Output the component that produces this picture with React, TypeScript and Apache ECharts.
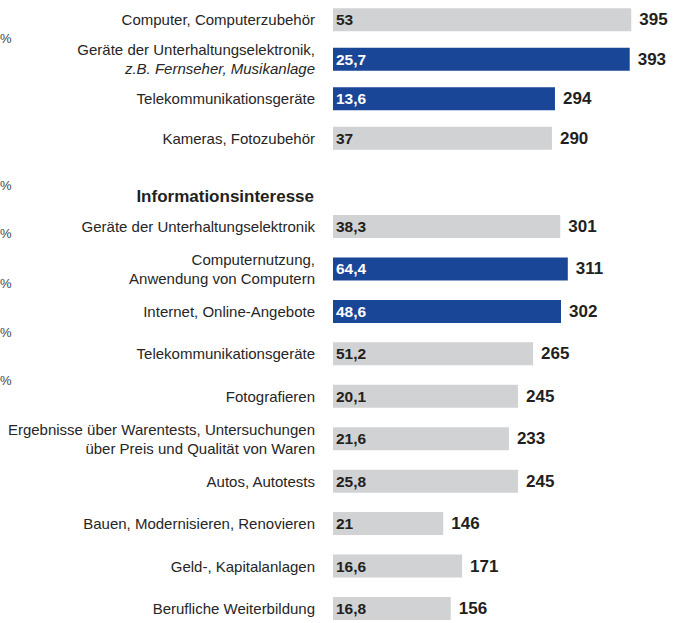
import React, { useEffect, useRef } from "react";
import * as echarts from "echarts";

const group1Categories = [
  "Computer, Computerzubehör",
  "Geräte der Unterhaltungselektronik,",
  "Telekommunikationsgeräte",
  "Kameras, Fotozubehör",
];
const group1Subtitles = ["", "z.B. Fernseher, Musikanlage", "", ""];
const group1Index = [395, 393, 294, 290];
const group1Share = ["53", "25,7", "13,6", "37"];
const group1Highlight = [false, true, true, false];

const group2Title = "Informationsinteresse";
const group2Categories = [
  "Geräte der Unterhaltungselektronik",
  "Computernutzung,\nAnwendung von Computern",
  "Internet, Online-Angebote",
  "Telekommunikationsgeräte",
  "Fotografieren",
  "Ergebnisse über Warentests, Untersuchungen\nüber Preis und Qualität von Waren",
  "Autos, Autotests",
  "Bauen, Modernisieren, Renovieren",
  "Geld-, Kapitalanlagen",
  "Berufliche Weiterbildung",
];
const group2Index = [301, 311, 302, 265, 245, 233, 245, 146, 171, 156];
const group2Share = ["38,3", "64,4", "48,6", "51,2", "20,1", "21,6", "25,8", "21", "16,6", "16,8"];
const group2Highlight = [false, true, true, false, false, false, false, false, false, false];

const leftPercentRows = ["%", "%", "%", "%", "%", "%"];

const GRAY = "#d1d2d4";
const BLUE = "#1a4698";
const DARK = "#231f20";
const LABEL = "#262626";
const SANS = "'Liberation Sans', Arial, sans-serif";

export default function App() {
  const ref = useRef<HTMLDivElement>(null);
  useEffect(() => {
    if (!ref.current) return;
    const chart = echarts.init(ref.current, null, { renderer: "svg" });

    const makeCatAxis = (gridIndex: number, cats: string[], subs?: string[]) => ({
      type: "category",
      gridIndex,
      data: cats,
      inverse: true,
      axisLine: { show: false },
      axisTick: { show: false },
      axisLabel: {
        margin: 18,
        fontFamily: SANS,
        fontSize: 15,
        color: LABEL,
        lineHeight: 19,
        align: "right",
        formatter: (v: string, i: number) => {
          const sub = subs ? subs[i] : "";
          if (sub) return `{n|${v}}\n{it|${sub}}`;
          return v;
        },
        rich: {
          n: { fontFamily: SANS, fontSize: 15, color: LABEL, lineHeight: 19 },
          it: { fontFamily: SANS, fontSize: 15, color: LABEL, fontStyle: "italic", lineHeight: 19 },
        },
      },
    });

    const makeValAxis = (gridIndex: number) => ({
      type: "value",
      gridIndex,
      min: 0,
      max: 400,
      show: false,
      splitLine: { show: false },
    });

    const makeSeries = (idx: number, values: number[], shares: string[], hl: boolean[]) => [
      {
        type: "bar",
        xAxisIndex: idx,
        yAxisIndex: idx,
        barWidth: 23,
        data: values.map((v, i) => ({
          value: v,
          itemStyle: { color: hl[i] ? BLUE : GRAY },
          label: { color: hl[i] ? "#ffffff" : DARK },
        })),
        label: {
          show: true,
          position: "insideLeft",
          distance: 3,
          fontFamily: SANS,
          fontWeight: "bold",
          fontSize: 15.5,
          formatter: (p: any) => shares[p.dataIndex],
        },
        silent: true,
      },
      {
        type: "bar",
        xAxisIndex: idx,
        yAxisIndex: idx,
        barWidth: 23,
        barGap: "-100%",
        data: values,
        itemStyle: { color: "rgba(0,0,0,0)" },
        label: {
          show: true,
          position: "right",
          distance: 8,
          fontFamily: SANS,
          fontWeight: "bold",
          fontSize: 17,
          color: DARK,
        },
        silent: true,
      },
    ];

    const percentY = [38, 185, 233, 283, 332, 380];

    chart.setOption({
      animation: false,
      grid: [
        { left: 333, top: 0, width: 302, height: 158, containLabel: false, outerBoundsMode: "none" },
        { left: 333, top: 205.3, width: 302, height: 424.4, containLabel: false, outerBoundsMode: "none" },
      ],
      xAxis: [makeValAxis(0), makeValAxis(1)],
      yAxis: [makeCatAxis(0, group1Categories, group1Subtitles), makeCatAxis(1, group2Categories)],
      series: [
        ...makeSeries(0, group1Index, group1Share, group1Highlight),
        ...makeSeries(1, group2Index, group2Share, group2Highlight),
      ],
      graphic: [
        {
          type: "text",
          x: 314,
          y: 196,
          style: {
            text: group2Title,
            align: "right",
            verticalAlign: "middle",
            fontFamily: SANS,
            fontWeight: "bold",
            fontSize: 17,
            fill: DARK,
          },
        },
        ...leftPercentRows.map((t, i) => ({
          type: "text",
          x: 0,
          y: percentY[i],
          style: {
            text: t,
            align: "left",
            verticalAlign: "middle",
            fontFamily: SANS,
            fontSize: 13,
            fill: "#444",
          },
        })),
      ],
    });
    return () => chart.dispose();
  }, []);
  return (
    <div
      ref={ref}
      style={{ position: "absolute", left: 0, top: 0, width: 678, height: 623, background: "#fff" }}
    />
  );
}
